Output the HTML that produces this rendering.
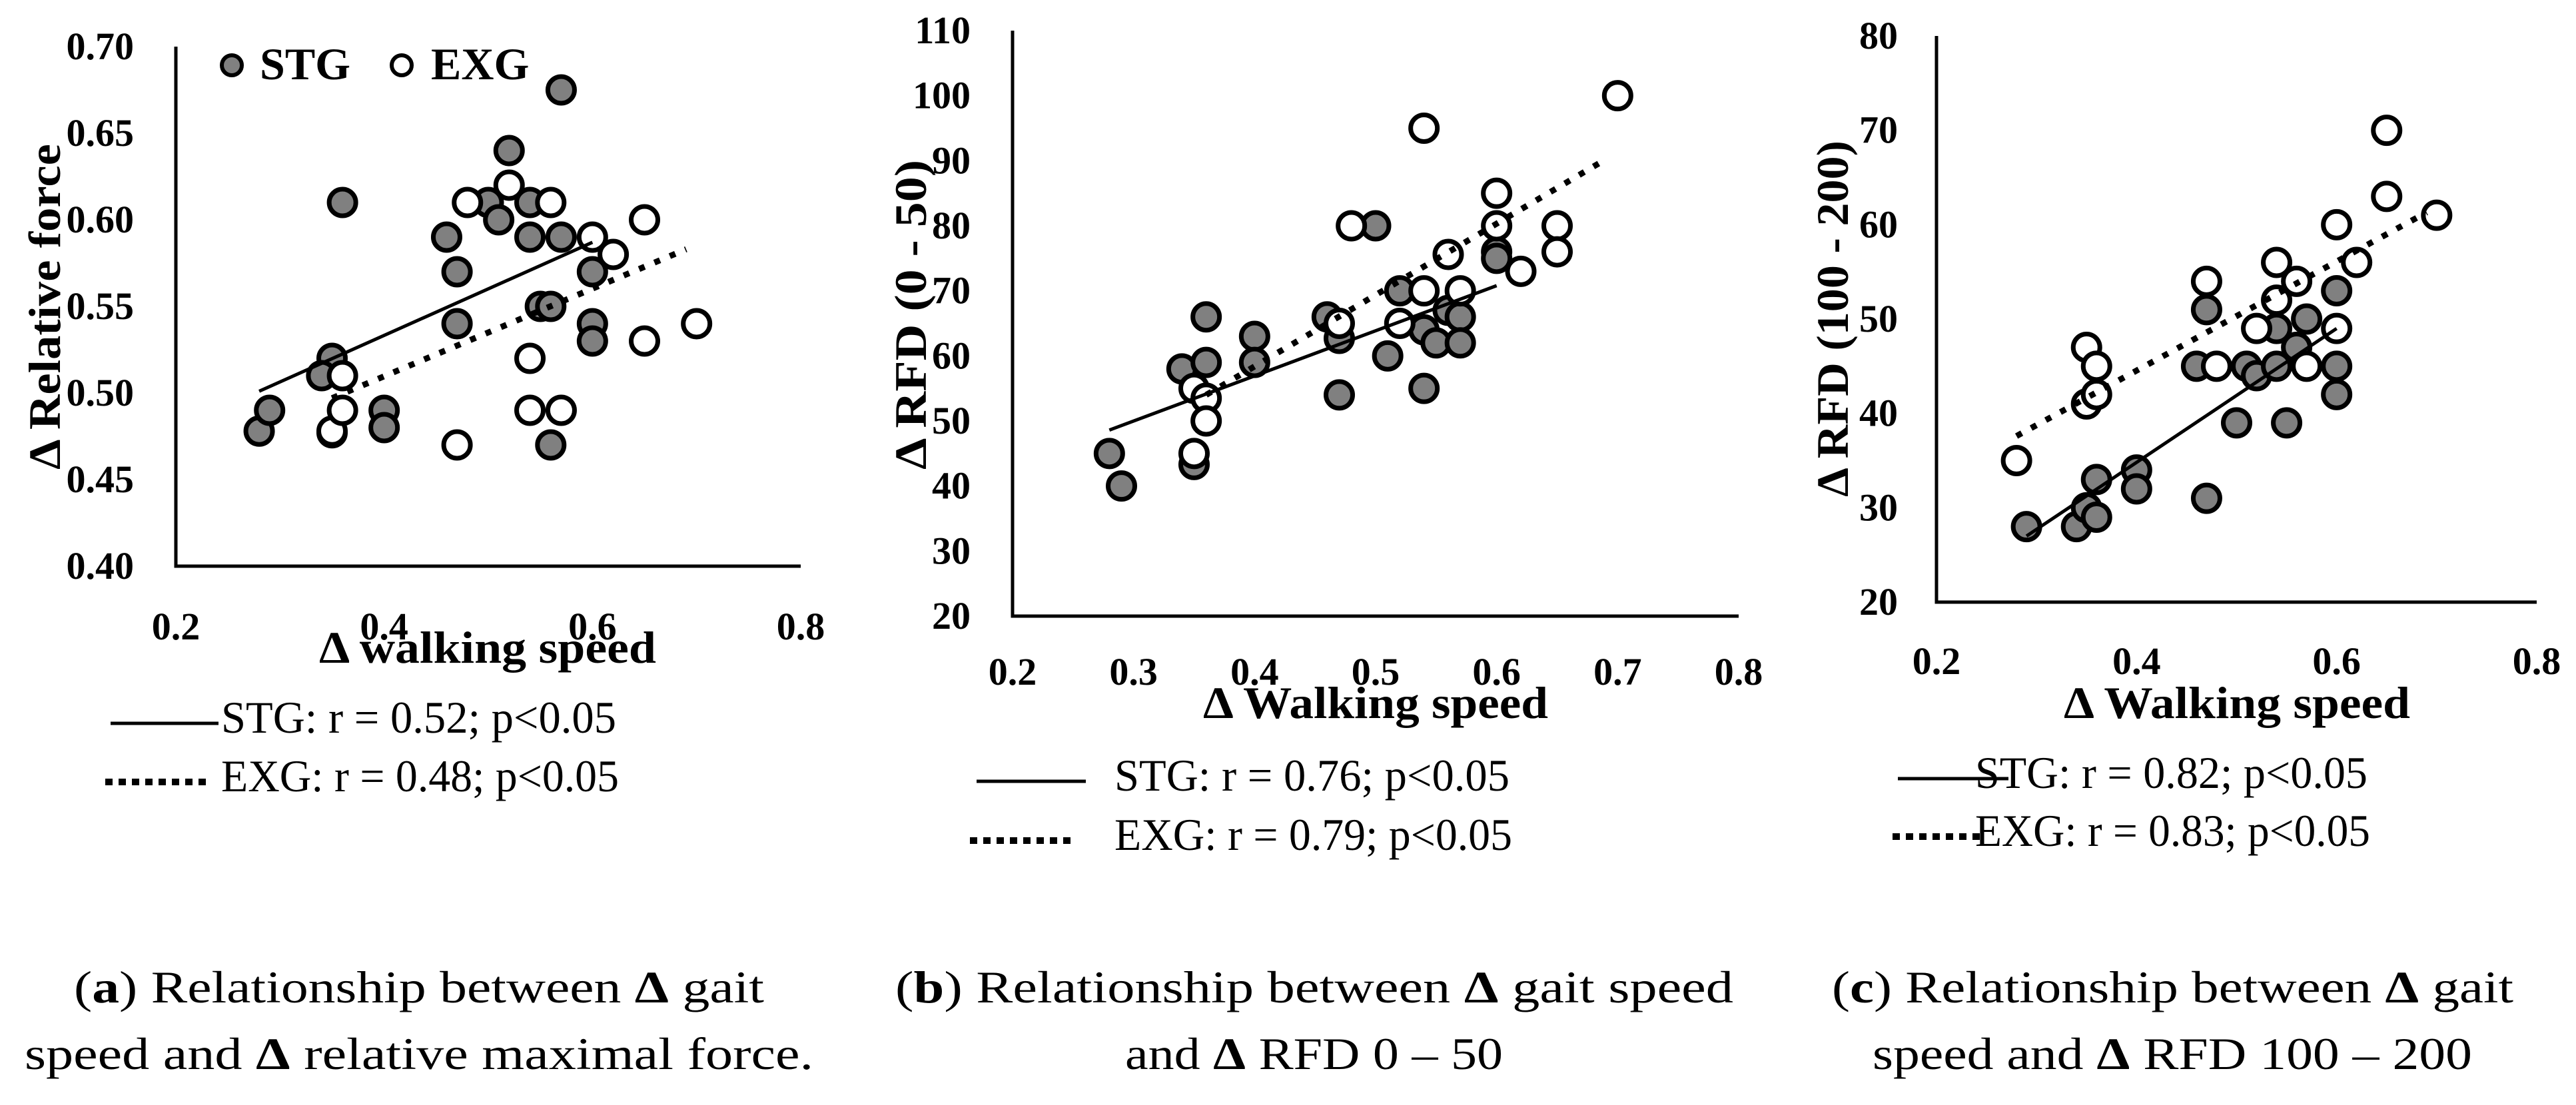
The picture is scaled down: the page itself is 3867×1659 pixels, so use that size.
<!DOCTYPE html>
<html><head><meta charset="utf-8"><style>
html,body{margin:0;padding:0;background:#fff;}
svg{display:block;}
text{font-family:"Liberation Serif",serif;fill:#000;}
.tick{font-weight:bold;font-size:58px;}
.title{font-weight:bold;font-size:68px;}
.leg{font-size:68px;}
.cap{font-size:68px;}
</style></head><body>
<svg id="fig" width="3867" height="1659" viewBox="0 0 3867 1659" xmlns="http://www.w3.org/2000/svg">
<g id="panels"></g>
<g>
<text class="cap" x="111" y="1505" textLength="1036" lengthAdjust="spacingAndGlyphs">(<tspan font-weight="bold">a</tspan>) Relationship between <tspan font-weight="bold">Δ</tspan> gait</text>
<text class="cap" x="37" y="1605" textLength="1184" lengthAdjust="spacingAndGlyphs">speed and <tspan font-weight="bold">Δ</tspan> relative maximal force.</text>
<text class="cap" x="1344" y="1505" textLength="1258" lengthAdjust="spacingAndGlyphs">(<tspan font-weight="bold">b</tspan>) Relationship between <tspan font-weight="bold">Δ</tspan> gait speed</text>
<text class="cap" x="1689" y="1605" textLength="567" lengthAdjust="spacingAndGlyphs">and <tspan font-weight="bold">Δ</tspan> RFD 0 – 50</text>
<text class="cap" x="2750" y="1505" textLength="1023" lengthAdjust="spacingAndGlyphs">(<tspan font-weight="bold">c</tspan>) Relationship between <tspan font-weight="bold">Δ</tspan> gait</text>
<text class="cap" x="2811" y="1605" textLength="900" lengthAdjust="spacingAndGlyphs">speed and <tspan font-weight="bold">Δ</tspan> RFD 100 – 200</text>
</g>
</svg>
<script>
// ---- Panel A data ----
const aStgX = [0.28,0.29,0.35,0.34,0.36,0.40,0.40,0.35,0.46,0.47,0.47,0.50,0.51,0.52,0.54,0.54,0.55,0.56,0.57,0.57,0.56,0.60,0.60,0.60];
const aStgY = [0.478,0.49,0.52,0.51,0.61,0.49,0.48,0.477,0.59,0.57,0.54,0.61,0.60,0.64,0.61,0.59,0.55,0.55,0.59,0.675,0.47,0.57,0.54,0.53];
const aExgX = [0.35,0.36,0.36,0.47,0.48,0.52,0.54,0.54,0.56,0.57,0.60,0.62,0.65,0.65,0.70];
const aExgY = [0.478,0.51,0.49,0.47,0.61,0.62,0.52,0.49,0.61,0.49,0.59,0.58,0.60,0.53,0.54];
const aStgTrend = [[0.28,0.501],[0.60,0.587]];
const aExgTrend = [[0.35,0.497],[0.69,0.583]];
const aXTicks = ["0.2","0.4","0.6","0.8"];
const aYTicks = ["0.40","0.45","0.50","0.55","0.60","0.65","0.70"];
// ---- Panel B data ----
const bStgX = [0.28,0.29,0.34,0.35,0.36,0.36,0.40,0.40,0.46,0.47,0.47,0.50,0.51,0.52,0.54,0.54,0.55,0.56,0.57,0.57,0.60,0.60];
const bStgY = [45,40,58,43.3,66,59,63,59,66,62.7,54,80,60,70,64,55,62,67,66,62,76,75];
const bExgX = [0.35,0.35,0.36,0.36,0.47,0.48,0.52,0.54,0.54,0.56,0.57,0.60,0.60,0.62,0.65,0.65,0.70];
const bExgY = [55,45,53.5,50,65,80,65,70,95,75.6,70,85,80,73,80,76,100];
const bStgTrend = [[0.28,48.6],[0.60,70.8]];
const bExgTrend = [[0.36,54],[0.69,90.2]];
const bXTicks = ["0.2","0.3","0.4","0.5","0.6","0.7","0.8"];
const bYTicks = ["20","30","40","50","60","70","80","90","100","110"];
// ---- Panel C data ----
const cStgX = [0.29,0.34,0.35,0.36,0.36,0.40,0.40,0.46,0.47,0.47,0.50,0.51,0.52,0.54,0.54,0.55,0.56,0.57,0.60,0.60,0.60];
const cStgY = [28,28,30,29,33,34,32,45,51,31,39,45,44,45,49,39,47,50,53,45,42];
const cExgX = [0.28,0.35,0.35,0.36,0.36,0.47,0.48,0.52,0.54,0.54,0.56,0.57,0.60,0.60,0.62,0.65,0.65,0.70];
const cExgY = [35,47,41,45,42,54,45,49,52,56,54,45,60,49,56,70,63,61];
const cStgTrend = [[0.29,27],[0.60,49]];
const cExgTrend = [[0.28,37.6],[0.69,61.3]];
const cXTicks = ["0.2","0.4","0.6","0.8"];
const cYTicks = ["20","30","40","50","60","70","80"];

const NS = "http://www.w3.org/2000/svg";
const root = document.getElementById('panels');
function mk(tag, attrs, parent){
  const e = document.createElementNS(NS, tag);
  for (const k in attrs) e.setAttribute(k, attrs[k]);
  parent.appendChild(e);
  return e;
}
function panel(cfg){
  const g = mk('g', {}, root);
  
  
  const sx = v => cfg.x0 + (v - cfg.xmin) / (cfg.xmax - cfg.xmin) * (cfg.x1 - cfg.x0);
  const sy = v => cfg.y0 - (v - cfg.ymin) / (cfg.ymax - cfg.ymin) * (cfg.y0 - cfg.y1);
  // axes
  const ya = mk('line', {x1:cfg.x0, y1:cfg.y1, x2:cfg.x0, y2:cfg.y0+2.5, stroke:'#000','stroke-width':5}, g);
  
  
  const xa = mk('line', {x1:cfg.x0-2.5, y1:cfg.y0, x2:cfg.x1, y2:cfg.y0, stroke:'#000','stroke-width':5}, g);
  
  
  // ticks
  cfg.xt.forEach(t => {
    const e = mk('text', {x:sx(parseFloat(t)), y:cfg.xty, 'text-anchor':'middle', class:'tick'}, g);
    e.textContent = t;
    
    
  });
  cfg.yt.forEach(t => {
    const e = mk('text', {x:cfg.ytx, y:sy(parseFloat(t))+19, 'text-anchor':'end', class:'tick'}, g);
    e.textContent = t;
    
    
  });
  // titles
  const xt = mk('text', {x:cfg.xtitle[0], y:cfg.xtitle[1], class:'title', textLength:cfg.xtitle[2], lengthAdjust:'spacingAndGlyphs'}, g);
  xt.textContent = cfg.xtitleText;
  
  
  const ytt = mk('text', {x:0, y:0, class:'title', textLength:cfg.ytitle[2], lengthAdjust:'spacingAndGlyphs',
    transform:'translate(' + cfg.ytitle[0] + ',' + cfg.ytitle[1] + ') rotate(-90)'}, g);
  ytt.textContent = cfg.ytitleText;
  
  
  // points
  cfg.stgX.forEach((v, i) => {
    const c = mk('circle', {cx:sx(v), cy:sy(cfg.stgY[i]), r:20, fill:'#808080', stroke:'#000', 'stroke-width':7}, g);
    
    
  });
  cfg.exgX.forEach((v, i) => {
    const c = mk('circle', {cx:sx(v), cy:sy(cfg.exgY[i]), r:20, fill:'#fff', stroke:'#000', 'stroke-width':7}, g);
    
    
  });
  // trends
  const t1 = mk('line', {x1:sx(cfg.stgT[0][0]), y1:sy(cfg.stgT[0][1]), x2:sx(cfg.stgT[1][0]), y2:sy(cfg.stgT[1][1]), stroke:'#000','stroke-width':5}, g);
  
  
  const t2 = mk('line', {x1:sx(cfg.exgT[0][0]), y1:sy(cfg.exgT[0][1]), x2:sx(cfg.exgT[1][0]), y2:sy(cfg.exgT[1][1]), stroke:'#000','stroke-width':9,'stroke-dasharray':'9 16'}, g);
  
  
  // bottom legend
  const L = cfg.leg;
  const l1 = mk('line', {x1:L.s[0], y1:L.s[2], x2:L.s[1], y2:L.s[2], stroke:'#000','stroke-width':5}, g);
  
  
  const l2 = mk('line', {x1:L.d[0], y1:L.d[2], x2:L.d[1], y2:L.d[2], stroke:'#000','stroke-width':10,'stroke-dasharray':'11 9'}, g);
  
  
  const lt1 = mk('text', {x:L.tx, y:L.s[2]+14, class:'leg', textLength:L.w1, lengthAdjust:'spacingAndGlyphs'}, g);
  lt1.textContent = L.t1;
  
  
  const lt2 = mk('text', {x:L.tx, y:L.d[2]+14, class:'leg', textLength:L.w2, lengthAdjust:'spacingAndGlyphs'}, g);
  lt2.textContent = L.t2;
  
  
  return g;
}

const gA = panel({id:'a', x0:264, x1:1202, y0:850, y1:70, xmin:0.2, xmax:0.8, ymin:0.40, ymax:0.70,
  xt:aXTicks, yt:aYTicks, xty:960, ytx:201,
  xtitle:[479,995,506], xtitleText:'Δ walking speed', ytitle:[90,705,489], ytitleText:'Δ  Relative force',
  stgX:aStgX, stgY:aStgY, exgX:aExgX, exgY:aExgY, stgT:aStgTrend, exgT:aExgTrend,
  leg:{s:[166,328,1086], d:[158,311,1174], tx:332, w1:593, w2:597, t1:'STG: r = 0.52; p<0.05', t2:'EXG: r = 0.48; p<0.05'}});
const gB = panel({id:'b', x0:1520, x1:2610, y0:925, y1:46, xmin:0.2, xmax:0.8, ymin:20, ymax:110,
  xt:bXTicks, yt:bYTicks, xty:1028, ytx:1457,
  xtitle:[1806,1078,518], xtitleText:'Δ Walking speed', ytitle:[1390,705,465], ytitleText:'Δ  RFD (0 - 50)',
  stgX:bStgX, stgY:bStgY, exgX:bExgX, exgY:bExgY, stgT:bStgTrend, exgT:bExgTrend,
  leg:{s:[1466,1630,1173], d:[1456,1612,1262], tx:1673, w1:593, w2:597, t1:'STG: r = 0.76; p<0.05', t2:'EXG: r = 0.79; p<0.05'}});
const gC = panel({id:'c', x0:2907, x1:3808, y0:904, y1:54, xmin:0.2, xmax:0.8, ymin:20, ymax:80,
  xt:cXTicks, yt:cYTicks, xty:1012, ytx:2849,
  xtitle:[3098,1078,520], xtitleText:'Δ Walking speed', ytitle:[2774,746,535], ytitleText:'Δ  RFD (100 - 200)',
  stgX:cStgX, stgY:cStgY, exgX:cExgX, exgY:cExgY, stgT:cStgTrend, exgT:cExgTrend,
  leg:{s:[2849,3015,1169], d:[2841,2973,1256], tx:2965, w1:589, w2:593, t1:'STG: r = 0.82; p<0.05', t2:'EXG: r = 0.83; p<0.05'}});

// in-plot legend for panel A
const lg = mk('g', {}, gA);


const m1 = mk('circle', {cx:348, cy:98, r:15, fill:'#808080', stroke:'#000','stroke-width':6}, lg);


const tx1 = mk('text', {x:390, y:119, class:'title'}, lg);
tx1.textContent = 'STG';


const m2 = mk('circle', {cx:603, cy:98, r:15, fill:'#fff', stroke:'#000','stroke-width':6}, lg);


const tx2 = mk('text', {x:647, y:119, class:'title'}, lg);
tx2.textContent = 'EXG';


</script>
</body></html>
